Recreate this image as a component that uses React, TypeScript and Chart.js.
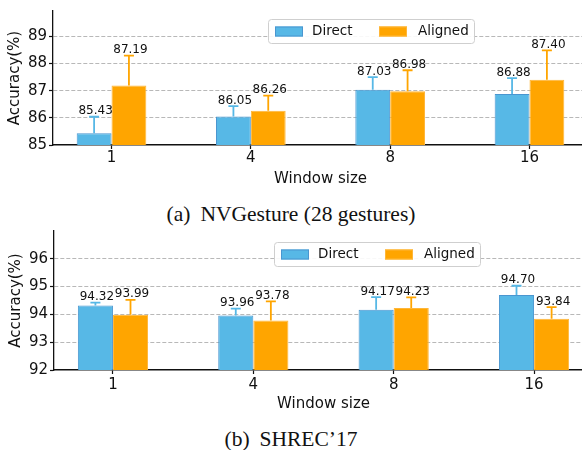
import { useEffect, useRef } from "react";
import { Chart, registerables } from "chart.js";

Chart.register(...registerables);

// ---------- data ----------
const windowSizes = ["1", "4", "8", "16"];
const seriesNames = ["Direct", "Aligned"];

const nvDirect = [85.43, 86.05, 87.03, 86.88];
const nvDirectErr = [0.61, 0.38, 0.47, 0.58];
const nvAligned = [87.19, 86.26, 86.98, 87.4];
const nvAlignedErr = [1.1, 0.56, 0.77, 1.08];
const nvYTicks = [85, 86, 87, 88, 89];

const shDirect = [94.32, 93.96, 94.17, 94.7];
const shDirectErr = [0.1, 0.25, 0.45, 0.33];
const shAligned = [93.99, 93.78, 94.23, 93.84];
const shAlignedErr = [0.53, 0.69, 0.38, 0.42];
const shYTicks = [92, 93, 94, 95, 96];

// ---------- styles ----------
const FONT = "DejaVu Sans";
const BLUE = "#57B8E6";
const BLUE_EDGE = "#4A96D0";
const ORANGE = "#FFA500";
const ORANGE_EDGE = "#FFB638";

const overlayPlugin = {
  id: "overlay",
  afterDatasetsDraw(chart: any, _args: any, opts: any) {
    const ctx = chart.ctx;
    const yScale = chart.scales.y;
    chart.data.datasets.forEach((ds: any, di: number) => {
      const meta = chart.getDatasetMeta(di);
      const errs = opts.errors[di];
      meta.data.forEach((bar: any, i: number) => {
        const v = ds.data[i].y;
        const top = yScale.getPixelForValue(v + errs[i]);
        const base = yScale.getPixelForValue(v);
        ctx.save();
        ctx.strokeStyle = ds.backgroundColor;
        ctx.lineWidth = 1.8;
        ctx.beginPath();
        ctx.moveTo(bar.x, base);
        ctx.lineTo(bar.x, top);
        ctx.moveTo(bar.x - 5, top);
        ctx.lineTo(bar.x + 5, top);
        ctx.stroke();
        ctx.fillStyle = "#111";
        ctx.font = `12px "${FONT}"`;
        ctx.textAlign = "center";
        ctx.textBaseline = "alphabetic";
        ctx.fillText(v.toFixed(2), bar.x + 1.5, top - 2.5);
        ctx.restore();
      });
    });
  },
  afterDraw(chart: any, _args: any, opts: any) {
    const ctx = chart.ctx;
    const area = chart.chartArea;
    const bx = area.left + opts.legendX;
    const by = area.top + opts.legendY;
    const bw = 206;
    const bh = 24;
    ctx.save();
    ctx.fillStyle = "rgba(255,255,255,0.9)";
    ctx.strokeStyle = "#cfcfcf";
    ctx.lineWidth = 1;
    ctx.beginPath();
    ctx.roundRect(bx + 0.5, by + 0.5, bw, bh, 3);
    ctx.fill();
    ctx.stroke();
    const entries = [
      { px: 7, tx: 44 },
      { px: 111, tx: 150 },
    ];
    chart.data.datasets.forEach((ds: any, di: number) => {
      const e = entries[di];
      const cy = by + bh / 2 + 0.5;
      ctx.fillStyle = ds.backgroundColor;
      ctx.strokeStyle = ds.borderColor;
      ctx.lineWidth = 1;
      ctx.fillRect(bx + e.px, cy - 5, 28, 10);
      ctx.strokeRect(bx + e.px + 0.5, cy - 4.5, 27, 9);
      ctx.fillStyle = "#111";
      ctx.font = `13.5px "${FONT}"`;
      ctx.textAlign = "left";
      ctx.textBaseline = "middle";
      ctx.fillText(ds.label, bx + e.tx, cy);
    });
    ctx.restore();
  },
};

type PanelProps = {
  direct: number[];
  directErr: number[];
  aligned: number[];
  alignedErr: number[];
  yTicks: number[];
  yMin: number;
  yMax: number;
  top: number;
  height: number;
  padTop: number;
  padRight: number;
  yWidth: number;
  xHeight: number;
  xTickPad: number;
  xTitlePad: number;
  yTitlePad: number;
  legendX: number;
  legendY: number;
};

function Panel(p: PanelProps) {
  const ref = useRef<HTMLCanvasElement | null>(null);
  useEffect(() => {
    if (!ref.current) return;
    const toPts = (arr: number[]) => arr.map((v, i) => ({ x: i, y: v }));
    const chart = new Chart(ref.current, {
      type: "bar",
      data: {
        datasets: [
          {
            label: seriesNames[0],
            data: toPts(p.direct),
            backgroundColor: BLUE,
            borderColor: BLUE_EDGE,
            borderWidth: 1,
          },
          {
            label: seriesNames[1],
            data: toPts(p.aligned),
            backgroundColor: ORANGE,
            borderColor: ORANGE_EDGE,
            borderWidth: 1,
          },
        ],
      } as any,
      options: {
        animation: false,
        responsive: false,
        events: [],
        layout: { padding: { top: p.padTop, right: p.padRight, left: 0, bottom: 0 } },
        datasets: { bar: { categoryPercentage: 0.5, barPercentage: 1.0 } },
        plugins: {
          legend: { display: false },
          tooltip: { enabled: false },
          overlay: {
            errors: [p.directErr, p.alignedErr],
            legendX: p.legendX,
            legendY: p.legendY,
          },
        } as any,
        scales: {
          x: {
            type: "linear",
            min: -0.42,
            max: 3.42,
            offset: false,
            afterBuildTicks: (scale: any) => {
              scale.ticks = windowSizes.map((_, i) => ({ value: i }));
            },
            afterFit: (scale: any) => {
              scale.height = p.xHeight;
            },
            ticks: {
              callback: (v: any) => windowSizes[v] ?? "",
              color: "#111",
              font: { family: FONT, size: 15 },
              padding: p.xTickPad,
              maxRotation: 0,
              autoSkip: false,
            },
            grid: {
              display: true,
              drawOnChartArea: false,
              drawTicks: true,
              tickLength: 4,
              tickColor: "#111",
              tickWidth: 1.2,
              offset: false,
            },
            border: { display: true, color: "#111", width: 1.5 },
            title: {
              display: true,
              text: "Window size",
              color: "#111",
              font: { family: FONT, size: 15 },
              padding: { top: 0, bottom: p.xTitlePad },
            },
          },
          y: {
            type: "linear",
            min: p.yMin,
            max: p.yMax,
            afterBuildTicks: (scale: any) => {
              scale.ticks = p.yTicks.map((v) => ({ value: v }));
            },
            afterFit: (scale: any) => {
              scale.width = p.yWidth;
            },
            ticks: {
              color: "#111",
              font: { family: FONT, size: 15 },
              padding: 2,
            },
            grid: {
              display: true,
              drawTicks: true,
              tickLength: 4,
              tickColor: "#111",
              tickWidth: 1.2,
              lineWidth: 1,
              color: (c: any) => (c.tick && c.tick.value === p.yMin ? "rgba(0,0,0,0)" : "#b8b8b8"),
            },
            border: { display: true, color: "#111", width: 1.3, dash: [4, 2] },
            title: {
              display: true,
              text: "Accuracy(%)",
              color: "#111",
              font: { family: FONT, size: 15 },
              padding: { top: p.yTitlePad, bottom: 0 },
            },
          },
        },
      } as any,
      plugins: [overlayPlugin as any],
    });
    return () => chart.destroy();
  }, []);
  return (
    <canvas
      ref={ref}
      width={600}
      height={p.height}
      style={{ position: "absolute", left: 0, top: p.top, width: 600, height: p.height, display: "block" }}
    />
  );
}

const captionStyle: any = {
  position: "absolute",
  left: 0,
  width: 582,
  textAlign: "center",
  fontFamily: '"Liberation Serif", "Times New Roman", serif',
  fontSize: "21.5px",
  lineHeight: "21.5px",
  color: "#111",
  whiteSpace: "nowrap",
};

export default function App() {
  return (
    <div
      style={{
        position: "fixed",
        left: 0,
        top: 0,
        width: 582,
        height: 450,
        overflow: "hidden",
        background: "#fff",
      }}
    >
      <Panel
        direct={nvDirect}
        directErr={nvDirectErr}
        aligned={nvAligned}
        alignedErr={nvAlignedErr}
        yTicks={nvYTicks}
        yMin={85}
        yMax={89.93}
        top={0}
        height={200}
        padTop={7}
        padRight={12}
        yWidth={53}
        xHeight={55}
        xTickPad={0}
        xTitlePad={12}
        yTitlePad={6}
        legendX={215}
        legendY={8}
      />
      <div style={{ ...captionStyle, top: 204 }}>
        <span>(a)</span>
        <span style={{ marginLeft: 10 }}>NVGesture (28 gestures)</span>
      </div>
      <Panel
        direct={shDirect}
        directErr={shDirectErr}
        aligned={shAligned}
        alignedErr={shAlignedErr}
        yTicks={shYTicks}
        yMin={92}
        yMax={97}
        top={220}
        height={200}
        padTop={10}
        padRight={7}
        yWidth={54}
        xHeight={50}
        xTickPad={2}
        xTitlePad={6.5}
        yTitlePad={7}
        legendX={220}
        legendY={11}
      />
      <div style={{ ...captionStyle, top: 429 }}>
        <span>(b)</span>
        <span style={{ marginLeft: 10 }}>SHREC’17</span>
      </div>
    </div>
  );
}
